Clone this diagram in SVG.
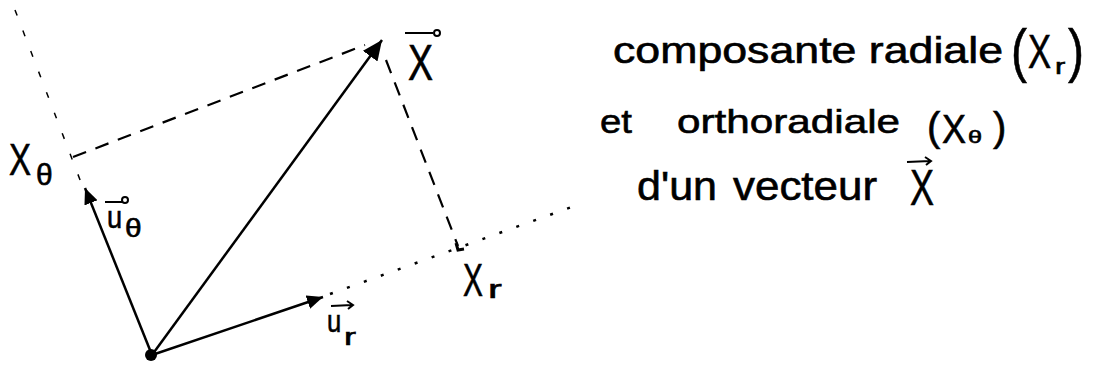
<svg xmlns="http://www.w3.org/2000/svg" width="1095" height="365" viewBox="0 0 1095 365">
<style>
  .t { font-family: "Liberation Sans", "DejaVu Sans", sans-serif; fill: #000; stroke: #000; stroke-width: 0.6; }
  .vec { stroke: #000; stroke-width: 2.5; fill: none; }
  .dash { stroke: #000; stroke-width: 2.2; fill: none; stroke-dasharray: 14 10; }
  .axis { stroke: #000; stroke-width: 1.5; fill: none; stroke-dasharray: 6 16; }
  .dots { stroke: #000; stroke-width: 2.5; fill: none; stroke-dasharray: 3 15; }
  .ovr { stroke: #000; stroke-width: 2; fill: none; }
</style>
<defs>
  <marker id="headBig" markerUnits="userSpaceOnUse" markerWidth="22" markerHeight="18" refX="20" refY="9" orient="auto">
    <path d="M0,0 L20,9 L0,18 Z" fill="#000"/>
  </marker>
  <marker id="head" markerUnits="userSpaceOnUse" markerWidth="18" markerHeight="14" refX="16" refY="7" orient="auto">
    <path d="M0,0 L16,7 L0,14 Z" fill="#000"/>
  </marker>
</defs>
<rect width="1095" height="365" fill="#fff"/>

<g id="connectors">
  <path class="axis" d="M15,10 L82,185"/>
  <path class="dots" d="M330,294 L580,204"/>
  <path class="dash" d="M73,157 L365,45"/>
  <path class="dash" d="M386,60 L458,246"/>
  <path d="M456,243 L458,250 L464,249" stroke="#000" stroke-width="3" fill="none"/>
  <path class="vec" d="M152,355 L382,40" marker-end="url(#headBig)"/>
  <path class="vec" d="M152,355 L85,188" marker-end="url(#head)"/>
  <path class="vec" d="M152,355 L323,297" marker-end="url(#head)"/>
</g>

<g id="origin">
  <circle cx="151" cy="355" r="6" fill="#000"/>
</g>

<g id="label-X">
  <text class="t" transform="translate(408,80) scale(0.75,1)" font-size="50">X</text>
  <path class="ovr" d="M405,33 L433,33"/>
  <circle cx="437" cy="33" r="3" fill="#fff" stroke="#000" stroke-width="2"/>
</g>

<g id="label-Xtheta">
  <text class="t" transform="translate(9,175) scale(0.75,1)" font-size="44">X</text>
  <text class="t" transform="translate(36,185)" font-size="30">θ</text>
</g>

<g id="label-utheta">
  <text class="t" transform="translate(107,228) scale(0.85,1)" font-size="32">u</text>
  <text class="t" transform="translate(125,237) scale(1.15,1)" font-size="26">θ</text>
  <path class="ovr" d="M105,202 L122,202"/>
  <circle cx="125" cy="200" r="3" fill="#fff" stroke="#000" stroke-width="2"/>
</g>

<g id="label-ur">
  <text class="t" transform="translate(327,332) scale(0.8,1)" font-size="32">u</text>
  <text class="t" transform="translate(344,345) scale(1.5,1)" font-size="24">r</text>
  <path class="ovr" d="M331,306 L352,305 M347,301 L353,305 L348,309"/>
</g>

<g id="label-Xr">
  <text class="t" transform="translate(463,296) scale(0.65,1)" font-size="46">X</text>
  <text class="t" transform="translate(488,298) scale(1.6,1)" font-size="26">r</text>
</g>

<g id="caption">
  <text class="t" x="613" y="63" font-size="36" textLength="390" lengthAdjust="spacingAndGlyphs">composante radiale</text>
  <text class="t" transform="translate(1011,71) scale(0.8,1)" font-size="60">(</text>
  <text class="t" transform="translate(1028,68) scale(0.72,1)" font-size="48">X</text>
  <text class="t" transform="translate(1055,74) scale(1.4,1)" font-size="22">r</text>
  <text class="t" transform="translate(1068,71) scale(0.8,1)" font-size="60">)</text>

  <text class="t" x="600" y="133" font-size="34" textLength="32" lengthAdjust="spacingAndGlyphs">et</text>
  <text class="t" x="677" y="133" font-size="34" textLength="223" lengthAdjust="spacingAndGlyphs">orthoradiale</text>
  <text class="t" transform="translate(927,141)" font-size="40">(</text>
  <text class="t" transform="translate(942,143) scale(0.9,1)" font-size="40">X</text>
  <text class="t" transform="translate(968,143) scale(1.4,1)" font-size="18">θ</text>
  <text class="t" transform="translate(993,141)" font-size="40">)</text>

  <text class="t" x="637" y="200" font-size="40" textLength="80" lengthAdjust="spacingAndGlyphs">d'un</text>
  <text class="t" x="733" y="200" font-size="40" textLength="144" lengthAdjust="spacingAndGlyphs">vecteur</text>
  <text class="t" transform="translate(910,205) scale(0.72,1)" font-size="50">X</text>
  <path class="ovr" d="M907,162 L930,161 M925,157 L931,161 L926,165"/>
</g>
</svg>
